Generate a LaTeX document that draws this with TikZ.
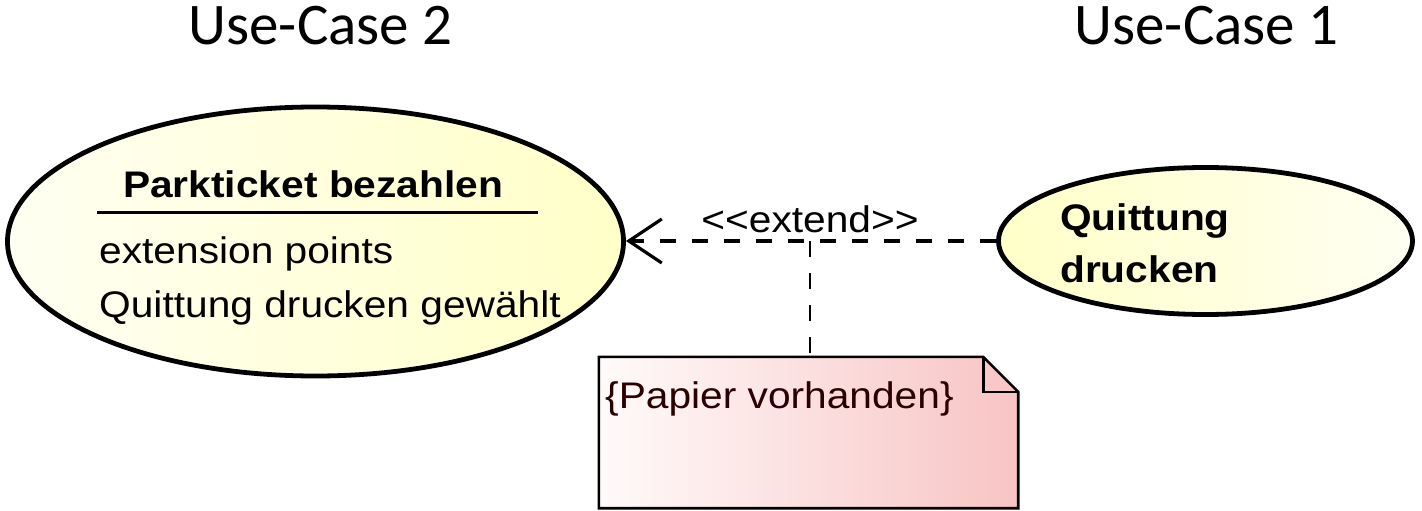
\documentclass[tikz,border=0pt]{standalone}
\usepackage{fontspec}
\usetikzlibrary{shapes.geometric,arrows.meta,calc}
\newfontfamily\umlfont[FakeStretch=1.1]{Liberation Sans}
\newfontfamily\hdrfont{Carlito}
\definecolor{ucyellow}{HTML}{FFFFC8}
\definecolor{ucpale}{HTML}{FFFFF2}
\definecolor{notepink}{HTML}{F8C4C4}
\definecolor{notewhite}{HTML}{FFFAFA}
\definecolor{notetext}{HTML}{2A0000}
\tikzset{
  hdr/.style={font=\hdrfont\fontsize{59}{70}\selectfont, anchor=base, inner sep=0},
  uctext/.style={font=\umlfont\fontsize{37}{44}\selectfont, anchor=base west, inner sep=0},
  ucbold/.style={font=\umlfont\bfseries\fontsize{37}{44}\selectfont, anchor=base west, inner sep=0},
  usecase/.style={ellipse, draw=black, line width=4.8pt, inner sep=0, left color=ucpale, right color=ucyellow},
  extendline/.style={line width=3.2pt, dash pattern=on 16pt off 16pt},
  anchorline/.style={line width=2.8pt, dash pattern=on 16pt off 16pt},
  notebox/.style={line width=2.6pt, left color=notewhite, right color=notepink}
}
\begin{document}
\begin{tikzpicture}[x=1pt,y=-1pt]
\useasboundingbox (0,0) rectangle (1422,511);

% headers
\node[hdr] (h2) at (320.5,45) {Use-Case 2};
\node[hdr] (h1) at (1206.5,45) {Use-Case 1};

% use case 2 (left)
\node[usecase, minimum width=616pt, minimum height=269pt] (uc2) at (315.5,241.5) {};
\node[ucbold] (t2) at (123,197) {Parkticket bezahlen};
\coordinate (sepL) at (97,212);
\coordinate (sepR) at (538,212);
\draw[line width=3pt] (sepL) -- (sepR);
\node[uctext] (ep) at (99,263) {extension points};
\node[uctext] (qdg) at (99,317) {Quittung drucken gewählt};

% use case 1 (right)
\node[usecase, left color=ucyellow, right color=ucpale, minimum width=414pt, minimum height=147pt] (uc1) at (1205.5,241) {};
\node[ucbold] (q1) at (1060,230) {Quittung};
\node[ucbold] (q2) at (1060,282) {drucken};

% extend relation
\draw[extendline, -{Straight Barb[length=33pt,width=44pt,line width=3.2pt]}] (uc1.west) -- (uc2.east |- uc1.west);
\node[font=\umlfont\fontsize{37}{44}\selectfont, anchor=base, inner sep=0] (ext) at (810,232) {<<extend>>};
\coordinate (mid) at (810,241);

% note
\node[minimum width=419pt, minimum height=151pt, inner sep=0] (note) at (808.5,432.5) {};
\shadedraw[notebox] (note.north west) -- ($(note.north east)+(-35,0)$) -- ($(note.north east)+(0,35)$) -- (note.south east) -- (note.south west) -- cycle;
\draw[line width=2.6pt] ($(note.north east)+(-35,0)$) -- ($(note.north east)+(-35,35)$) -- ($(note.north east)+(0,35)$);
\node[uctext, text=notetext] (nt) at (605,408) {\{Papier vorhanden\}};

\draw[anchorline] (mid) -- (mid |- note.north);
\end{tikzpicture}
\end{document}
